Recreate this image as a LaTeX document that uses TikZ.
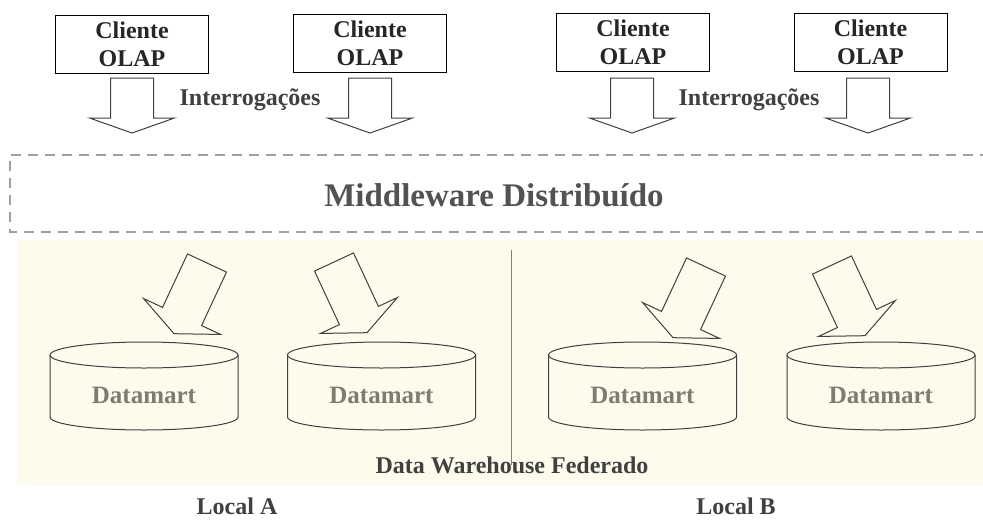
\documentclass[tikz,border=0pt]{standalone}
\usepackage{fontspec}
\setmainfont{Liberation Serif}
\definecolor{dwfill}{HTML}{FDFCEC}
\definecolor{dashgray}{HTML}{A0A0A0}
\definecolor{dmtext}{HTML}{7C7C70}
\tikzset{
  client/.style={draw, line width=1pt, minimum width=153pt, minimum height=58pt,
    align=center, font=\fontsize{24}{28}\selectfont\bfseries, text=black!85},
  label/.style={inner sep=1pt, font=\fontsize{24}{28}\selectfont\bfseries, text=black!75},
  blockline/.style={draw=black!75, line width=1pt, line join=miter},
  pics/blockarrow/.style 2 args={code={
    \draw[blockline] (-21.5,0) -- (21.5,0) -- (21.5,#1-#2) -- (42.5,#1-#2)
      -- (0,#1) -- (-42.5,#1-#2) -- (-21.5,#1-#2) -- cycle;}}
}
\begin{document}
\begin{tikzpicture}[x=1pt, y=-1pt]
  \useasboundingbox (0,0) rectangle (983,520);
  %federated area
  \fill[dwfill] (17,240) rectangle (983,485);
  \draw[black!50, line width=0.6pt] (511,250) -- (511,465);
  %middleware
  \draw[dashgray, line width=2pt, dash pattern=on 10pt off 7pt]
        (990,155) -- (10,155) -- (10,232) -- (990,232);
  \node (mw) at (494,195) [font=\fontsize{33}{38}\selectfont\bfseries, text=black!68]
        {Middleware Distribuído};
  %clients
  \node[client] (c1) at (132,44) {Cliente\\OLAP};
  \node[client] (c2) at (370,43.5) {Cliente\\OLAP};
  \node[client] (c3) at (633,42.5) {Cliente\\OLAP};
  \node[client] (c4) at (870.5,42.5) {Cliente\\OLAP};
  \node[label] (q1) at (250,100) {Interrogações};
  \node[label] (q2) at (749,100) {Interrogações};
  %queries down to the middleware
  \pic at (132,78) {blockarrow={55}{15}};
  \pic at (370,78) {blockarrow={55}{15}};
  \pic at (632,78) {blockarrow={55}{15}};
  \pic at (868,78) {blockarrow={55}{15}};
  %queries down to the datamarts
  \pic[rotate=-25] at (207,263) {blockarrow={78}{19}};
  \pic[rotate=25] at (334,262) {blockarrow={78}{19}};
  \pic[rotate=-25] at (706,267) {blockarrow={78}{19}};
  \pic[rotate=25] at (832,265) {blockarrow={78}{19}};
  %datamarts
  \foreach \cx [count=\i] in {144,381.5,642.5,881}{
    \draw[blockline] (\cx-94,355) -- (\cx-94,417) arc (180:0:94 and 13)
          -- (\cx+94,355);
    \draw[blockline] (\cx,355) ellipse (94 and 13);
    \node (dm\i) at (\cx,395) [font=\fontsize{25}{29}\selectfont\bfseries, text=dmtext]
          {Datamart};
  }
  \node[label] (dw) at (512,465) {Data Warehouse Federado};
  \node[label] (la) at (237,506) {Local A};
  \node[label] (lb) at (736,506) {Local B};
\end{tikzpicture}
\end{document}
